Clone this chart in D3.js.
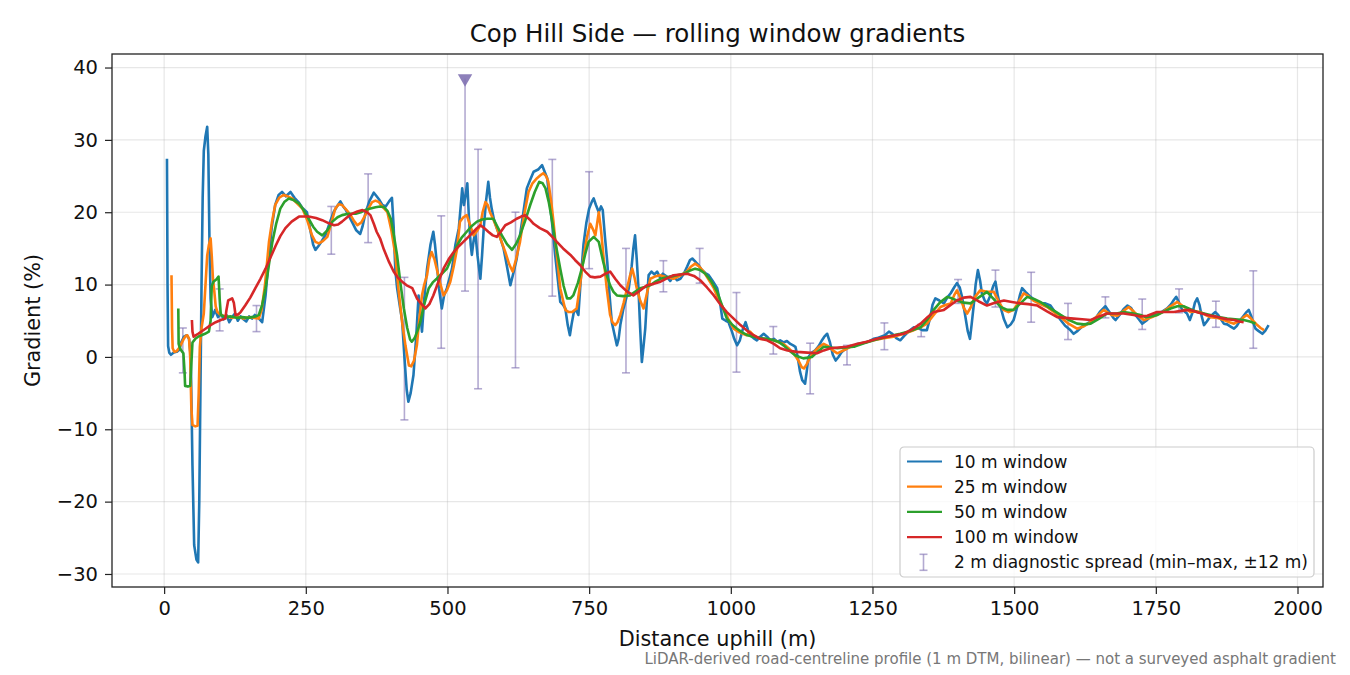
<!DOCTYPE html>
<html>
<head>
<meta charset="utf-8">
<script src="https://cdn.jsdelivr.net/npm/d3@7"></script>
<style>
  body { margin: 0; background: #fff; }
  svg { display: block; font-family: "DejaVu Sans", sans-serif; }
</style>
</head>
<body>
<svg id="chart" width="1350" height="675"></svg>
<script>
// [distance (m), gradient (%)]
const win10 = [[5,27.4],[6,10],[7,1.5],[9,0.6],[12,0.3],[17,0.6],[22,0.7],[27,1.0],[30,2.0],[35,2.8],[40,3.0],[44,2.5],[47,0],[50,-15],[53,-26],[57,-28],[60,-28.4],[62,-20],[64,-5],[66,10],[68,22],[70,28.5],[73,30.5],[76,31.8],[78,28],[80,16],[82,8],[85,5.5],[90,6.5],[95,5.5],[100,6.0],[105,5.2],[110,5.8],[115,4.8],[120,5.5],[125,6.0],[130,5.0],[135,5.6],[140,5.2],[145,4.9],[150,5.6],[155,5.3],[160,5.8],[166,5.4],[173,4.8],[179,8.5],[185,14],[190,18],[196,21],[202,22.4],[208,22.8],[215,22.2],[223,22.8],[230,22.0],[237,21.4],[244,20.6],[252,20.0],[258,17.5],[263,15.5],[267,14.8],[272,15.3],[278,16.0],[285,16.9],[292,18.5],[299,20.0],[305,20.8],[311,21.5],[316,20.8],[320,20.4],[326,19.5],[332,18.6],[339,17.5],[346,17.0],[350,18.0],[355,19.8],[362,21.5],[370,22.7],[375,22.2],[379,21.8],[385,21.0],[391,20.8],[397,21.5],[402,22.0],[405,18],[408,12],[411,9.6],[416,7],[420,5],[424,0],[428,-4.5],[431,-6.2],[435,-5],[440,-2.5],[445,3],[449,8.5],[452,6],[455,3.5],[459,8],[464,12.2],[470,15.5],[475,17.3],[478,15.5],[481,13.1],[485,9.5],[490,6.7],[494,8.5],[499,9.5],[504,11],[508,12.2],[514,15.5],[520,17.8],[523,20.5],[526,23.3],[529,21],[531,21.9],[535,24],[538,19],[541,15.5],[543,14.1],[546,16],[549,17.3],[553,14],[558,10.8],[561,14],[564,17.8],[568,21.5],[572,24.2],[575,22],[578,20.5],[582,19],[587,17.8],[593,16.5],[599,15],[605,12.5],[611,9.9],[617,11.8],[622,13.5],[628,16.8],[634,20],[640,23.3],[646,24.5],[652,25.6],[660,25.9],[667,26.5],[672,25.5],[676,24.7],[681,21],[686,17.5],[690,14.1],[695,10.5],[699,7.6],[704,7.2],[708,6.7],[712,4.5],[716,3.0],[719,4.5],[723,6.2],[727,6.5],[731,5.8],[735,10.5],[740,15.5],[745,18.5],[750,20.5],[755,21.5],[758,21.9],[762,21.0],[767,20.0],[771,20.8],[774,20.3],[778,16.5],[782,13.1],[786,8.5],[790,4.8],[795,3.0],[799,1.6],[802,2.5],[805,4.4],[810,6.5],[815,8.0],[820,9.5],[825,12.5],[828,15],[831,16.8],[834,13.5],[837,9.5],[840,4],[843,-0.7],[846,1.5],[849,3.9],[852,8],[855,11.3],[860,11.8],[865,11.4],[870,11.8],[875,11.0],[880,11.5],[887,11.1],[893,10.5],[899,11.2],[905,10.6],[911,10.8],[917,11.5],[923,12.5],[928,13.4],[932,13.6],[937,13.2],[943,12.7],[949,12.0],[955,11.6],[961,11.3],[968,10.5],[976,9.5],[981,7.5],[985,5.3],[991,5.0],[996,4.8],[1002,3.5],[1006,2.5],[1011,1.6],[1016,2.3],[1021,3.8],[1026,4.8],[1030,3.8],[1034,3.0],[1040,2.6],[1046,2.3],[1052,2.8],[1058,3.2],[1064,2.8],[1070,2.3],[1076,2.5],[1082,2.1],[1087,2.3],[1093,2.0],[1099,2.2],[1105,1.8],[1110,1.6],[1114,1.4],[1118,0],[1122,-2],[1126,-3.2],[1131,-3.7],[1134,-2],[1137,0],[1143,0.6],[1149,0.9],[1155,1.5],[1160,2.2],[1165,2.8],[1170,3.2],[1175,2.0],[1180,0.3],[1185,-0.5],[1190,0],[1195,0.6],[1199,0.9],[1205,1.2],[1211,1.5],[1217,1.4],[1223,1.8],[1230,1.9],[1237,2.0],[1245,2.2],[1252,2.5],[1258,2.6],[1265,2.8],[1272,3.0],[1279,3.5],[1285,3.2],[1292,2.6],[1299,2.3],[1306,2.9],[1315,3.6],[1323,4.1],[1330,4.0],[1338,3.7],[1346,3.7],[1352,5.5],[1356,7.2],[1361,8.1],[1368,7.8],[1376,7.4],[1382,8.2],[1388,8.8],[1394,9.6],[1399,10.2],[1404,9.6],[1408,8.3],[1413,6],[1418,3.6],[1422,2.5],[1425,4.5],[1429,7.4],[1432,10],[1436,12.0],[1440,10.5],[1443,8.8],[1448,7.8],[1452,7.4],[1458,8.5],[1463,9.8],[1467,10.4],[1471,8.5],[1476,6.9],[1482,5.2],[1488,4.1],[1494,4.5],[1499,5.1],[1505,6.8],[1510,8.5],[1514,9.5],[1520,9.0],[1529,8.3],[1537,7.8],[1546,7.4],[1555,7.4],[1564,7.1],[1572,6.2],[1582,5.1],[1590,4.3],[1598,3.8],[1605,3.2],[1612,3.6],[1620,4.2],[1629,4.6],[1637,5.0],[1645,5.5],[1652,6.3],[1661,7.0],[1668,6.2],[1675,5.4],[1679,5.1],[1686,5.8],[1693,6.6],[1700,7.1],[1706,6.8],[1712,6.0],[1720,5.2],[1726,4.6],[1733,5.0],[1740,5.5],[1746,5.8],[1753,6.0],[1760,6.2],[1770,6.7],[1777,7.3],[1782,7.9],[1786,8.3],[1791,7.5],[1796,6.6],[1805,6.0],[1810,5.1],[1815,6.2],[1819,7.5],[1823,8.1],[1827,7.2],[1831,5.6],[1835,4.4],[1840,4.9],[1846,5.6],[1855,6.2],[1860,5.8],[1865,5.2],[1870,4.6],[1876,4.5],[1882,4.2],[1888,3.9],[1893,4.3],[1899,5.1],[1905,5.7],[1910,6.2],[1914,6.5],[1918,5.7],[1922,4.7],[1926,3.9],[1931,3.6],[1938,3.2],[1943,3.6],[1949,4.4]];

const win25 = [[13,11.3],[14,4],[15,1.2],[18,0.7],[22,0.8],[26,1.2],[29,1.6],[34,2.4],[38,2.9],[41,3.0],[44,2.5],[46,0],[48,-7],[50,-9.4],[55,-9.6],[59,-9.5],[61,-5],[63,1.4],[66,4],[70,6],[73,10],[76,14],[79,15.5],[82,16.4],[84,14],[86,11],[88,9.5],[91,7],[94,6.2],[100,5.8],[110,5.6],[120,5.4],[130,5.6],[140,5.3],[150,5.5],[160,5.4],[167,5.3],[172,6.5],[178,10],[185,15.9],[190,18.5],[196,21],[203,22.0],[211,22.4],[218,22.2],[226,21.9],[235,21.2],[244,20.5],[252,19.0],[261,16.8],[267,15.9],[273,15.7],[280,16.0],[288,16.6],[295,18.5],[302,20.5],[308,21.1],[314,21.0],[322,20.3],[329,19.6],[335,18.8],[341,18.2],[348,18.6],[355,19.6],[361,20.6],[367,21.4],[373,21.6],[379,21.4],[386,20.7],[394,20.0],[401,17.5],[408,14.1],[414,9],[420,4.8],[426,1.5],[432,-1.2],[436,-1.3],[441,-0.5],[446,1.6],[450,5],[455,8.5],[459,10],[464,11.3],[468,13.5],[472,14.5],[477,13.5],[481,12.2],[487,10.2],[493,8.5],[499,9.2],[505,10.4],[511,12.5],[517,15],[522,18.7],[528,19.3],[534,19.6],[540,18.2],[546,16.8],[552,17.4],[558,18.2],[562,20],[567,21.4],[571,21],[575,20.0],[581,19],[587,17.8],[595,16],[602,14.5],[609,12.8],[615,11.8],[621,13.5],[628,15.9],[635,19.5],[643,22.8],[650,24.0],[658,24.7],[664,25.1],[669,25.4],[674,25.0],[678,24.2],[683,21.5],[687,18.7],[693,14],[699,9.5],[704,7.8],[708,6.5],[714,6.2],[720,6.2],[728,6.7],[734,10],[740,13.6],[746,16.5],[752,18.4],[757,17.6],[761,16.8],[767,20.0],[771,17.5],[775,14.1],[781,9.5],[787,5.8],[791,4.8],[796,4.4],[800,4.8],[805,5.8],[811,7.5],[817,9.5],[822,11.2],[826,12.2],[830,11],[834,9.5],[840,7.8],[846,6.7],[852,8.8],[858,10.8],[866,11.1],[875,11.3],[887,11.0],[899,10.8],[910,11.2],[922,11.8],[930,12.5],[937,12.9],[944,12.5],[952,11.8],[960,10.8],[970,9.5],[978,8.0],[987,6.7],[996,5.2],[1005,3.9],[1015,3.4],[1028,3.0],[1034,3.5],[1040,3.0],[1052,2.5],[1058,2.5],[1066,2.4],[1076,2.3],[1085,2.0],[1093,1.8],[1102,1.2],[1111,0.5],[1120,-0.6],[1125,-1.4],[1129,-1.6],[1134,-1.0],[1140,0],[1148,0.8],[1156,1.4],[1164,1.8],[1172,1.5],[1180,0.9],[1188,0.5],[1196,0.8],[1204,1.1],[1211,1.4],[1222,1.7],[1237,2.0],[1252,2.3],[1270,2.6],[1287,2.8],[1305,3.2],[1323,3.7],[1335,4.1],[1346,4.6],[1358,5.8],[1370,6.9],[1380,7.2],[1388,7.4],[1394,8.5],[1399,9.2],[1405,8.2],[1411,6.8],[1417,6.0],[1423,6.8],[1430,8.2],[1440,9.2],[1452,9.0],[1464,9.0],[1472,7.8],[1481,6.5],[1490,6.2],[1499,6.5],[1508,7.6],[1517,8.8],[1525,8.4],[1534,7.8],[1546,7.3],[1558,6.9],[1570,6.2],[1582,5.5],[1596,4.6],[1611,3.9],[1622,4.2],[1635,4.8],[1646,5.6],[1658,6.5],[1664,6.2],[1672,5.8],[1682,5.7],[1692,6.3],[1702,6.9],[1712,6.2],[1720,5.6],[1729,5.1],[1740,5.4],[1752,5.8],[1764,6.3],[1776,7.0],[1788,7.6],[1800,6.9],[1811,6.2],[1820,6.3],[1829,6.2],[1838,5.8],[1846,5.5],[1858,5.4],[1870,5.1],[1880,4.8],[1888,4.6],[1898,5.0],[1905,5.5],[1911,5.8],[1918,5.3],[1924,4.8],[1929,4.4],[1935,4.0],[1941,3.7]];

const win50 = [[25,6.7],[25.6,1.8],[28,1.2],[31,0.8],[34,0.5],[36,-2],[37,-4.0],[42,-4.1],[46,-4.0],[48,-1],[50,2.0],[55,2.5],[60,2.8],[66,3.0],[72,3.2],[79,3.5],[82,5],[84,9.8],[87,10.4],[92,10.7],[96,11.1],[98,8],[100,5.8],[108,5.5],[118,5.6],[128,5.4],[138,5.5],[148,5.4],[155,5.5],[162,5.6],[167,5.8],[173,7.2],[179,9.5],[185,12.8],[191,15.9],[198,18.5],[205,20.5],[212,21.4],[220,21.9],[228,21.7],[238,21.2],[247,20.2],[255,19.1],[263,18.0],[270,17.3],[279,16.8],[288,17.5],[297,18.7],[306,19.3],[314,19.6],[325,19.8],[338,19.8],[347,20.0],[355,20.3],[364,20.5],[373,20.7],[381,20.8],[388,20.7],[394,20.2],[400,19.1],[405,17],[411,14.1],[417,10.2],[423,6.7],[429,4],[434,2.4],[437,2.1],[442,2.6],[447,3.6],[452,4.8],[458,7],[467,9.5],[474,10.3],[481,10.8],[490,11.5],[499,12.2],[508,13.8],[517,15.4],[525,16.5],[534,17.3],[543,18.1],[552,18.7],[561,19.0],[570,19.1],[581,19.1],[588,18.0],[596,16.8],[605,15.6],[614,14.8],[621,15.6],[628,16.8],[637,18.8],[646,21.0],[654,22.8],[662,24.2],[668,24.0],[673,23.3],[679,21.3],[684,19.1],[691,15.6],[699,12.2],[705,9.8],[711,8.1],[717,8.1],[722,8.5],[730,10.2],[737,12.2],[743,14.2],[749,15.9],[758,16.6],[767,15.9],[775,13.1],[781,11.3],[787,9.9],[793,9.0],[799,8.5],[810,8.4],[822,8.5],[831,9.0],[840,9.5],[850,9.7],[858,9.9],[867,10.4],[876,10.8],[893,11.1],[905,11.3],[917,11.5],[927,11.9],[937,12.2],[946,12.0],[955,11.5],[965,10.5],[976,9.0],[985,7.0],[993,5.3],[1002,4.5],[1011,3.9],[1020,3.4],[1029,3.0],[1040,2.8],[1052,2.6],[1064,2.5],[1075,2.3],[1084,2.1],[1093,1.6],[1103,0.9],[1114,0.2],[1128,-0.2],[1143,0],[1153,0.7],[1164,1.4],[1176,1.3],[1188,1.2],[1202,1.3],[1217,1.4],[1235,1.9],[1252,2.3],[1275,2.8],[1299,3.2],[1317,3.6],[1335,4.1],[1347,5.2],[1358,6.5],[1370,7.6],[1382,8.3],[1390,8.1],[1399,7.8],[1411,7.5],[1423,7.4],[1437,8.2],[1452,9.0],[1464,8.0],[1476,6.9],[1488,6.5],[1499,6.5],[1511,7.4],[1523,8.3],[1535,8.0],[1546,7.6],[1564,6.7],[1582,5.8],[1597,5.1],[1611,4.6],[1623,4.5],[1635,4.6],[1650,5.3],[1664,6.0],[1681,6.0],[1693,6.2],[1711,6.0],[1723,5.8],[1732,5.5],[1742,5.6],[1752,5.8],[1765,6.3],[1776,6.7],[1788,7.0],[1799,7.0],[1811,6.6],[1823,6.2],[1835,6.0],[1846,5.8],[1861,5.5],[1876,5.3],[1890,5.2],[1905,5.1],[1916,4.9],[1926,4.6]];

const win100 = [[49,5.1],[50,3.5],[52,2.8],[60,3.2],[73,3.9],[82,4.4],[91,4.8],[100,5.1],[108,5.3],[110,6.5],[113,7.8],[120,8.1],[123,7.5],[126,5.8],[131,5.9],[135,6.2],[143,7.1],[152,8.2],[161,9.5],[170,10.8],[179,12.2],[188,13.8],[197,15.4],[205,16.7],[214,17.8],[225,18.7],[238,19.4],[255,19.4],[268,19.2],[279,18.9],[290,18.5],[300,18.2],[307,18.3],[314,18.7],[323,19.3],[332,19.8],[341,20.1],[350,20.3],[358,20.0],[364,19.6],[370,18.4],[375,17.3],[381,16.4],[388,14.8],[397,13.1],[405,11.8],[412,11.0],[420,10.4],[428,9.9],[438,9.5],[446,8.1],[452,7.5],[461,6.7],[468,7.3],[475,8.5],[484,10.4],[493,12.2],[502,13.5],[511,14.5],[520,15.3],[528,15.9],[537,16.6],[546,17.3],[552,17.8],[558,18.2],[565,17.8],[572,17.3],[580,16.8],[587,16.6],[595,17.4],[602,18.2],[612,18.6],[622,19.1],[630,19.4],[637,19.6],[645,19.0],[652,18.4],[663,17.8],[676,17.3],[685,16.6],[693,15.9],[704,15.0],[717,14.1],[725,13.4],[734,12.7],[743,11.8],[752,11.1],[760,11.0],[770,11.1],[779,11.5],[787,11.8],[796,10.8],[805,9.9],[816,9.1],[828,8.5],[840,9.2],[852,9.9],[864,10.1],[876,10.4],[888,10.9],[899,11.3],[911,11.4],[923,11.5],[935,11.2],[946,10.6],[958,9.6],[970,8.5],[981,7.3],[993,6.2],[1005,5.3],[1017,4.4],[1029,3.6],[1040,3.0],[1052,2.5],[1064,2.3],[1076,1.8],[1087,1.2],[1100,0.9],[1117,0.7],[1135,0.6],[1152,0.5],[1164,0.9],[1176,1.2],[1190,1.3],[1205,1.4],[1222,1.8],[1240,2.1],[1258,2.5],[1276,2.8],[1290,3.0],[1305,3.2],[1320,3.8],[1335,4.6],[1347,5.5],[1358,6.2],[1376,6.5],[1388,7.2],[1399,7.8],[1411,8.2],[1423,8.3],[1437,7.7],[1452,7.1],[1466,7.5],[1482,7.8],[1496,7.6],[1511,7.4],[1525,7.3],[1541,7.1],[1558,6.3],[1576,5.5],[1590,5.4],[1605,5.3],[1620,5.2],[1635,5.1],[1650,5.6],[1664,6.0],[1680,6.0],[1693,6.0],[1711,5.8],[1723,5.6],[1735,5.7],[1752,6.2],[1767,6.2],[1782,6.2],[1797,6.4],[1811,6.5],[1826,6.1],[1841,5.8],[1855,5.6],[1864,5.4],[1876,5.2],[1888,5.1],[1897,4.9],[1905,4.8]];

// [distance, min, max] of the 2 m gradient within +-12 m
const spread2 = [[33,-2.2,4.0],[98,3.6,9.4],[163,3.5,7.1],[295,14.2,20.8],[360,15.8,25.3],[424,-8.7,11.0],[489,1.2,19.5],[531,9.1,38.5],[554,-4.4,28.7],[620,-1.5,20.0],[685,8.4,27.3],[750,12.2,25.6],[815,-2.2,15.0],[881,9.0,13.3],[945,10.2,15.0],[1010,-2.1,8.9],[1075,0.4,4.2],[1140,-5.1,1.9],[1205,-1.1,1.6],[1271,1.0,4.7],[1336,2.8,4.5],[1401,7.4,10.7],[1467,6.9,12.0],[1530,4.8,11.7],[1595,2.4,7.4],[1661,5.4,8.3],[1726,3.8,8.0],[1791,6.1,9.4],[1856,4.1,7.7],[1922,1.2,11.9]];

// off-scale marker (clipped max)
const clipped = [[531,38.5]];

const xTicks = [0,250,500,750,1000,1250,1500,1750,2000];
const yTicks = [-30,-20,-10,0,10,20,30,40];

const series = [
    { label: '10 m window', data: win10, color: '#1f77b4' },
    { label: '25 m window', data: win25, color: '#ff7f0e' },
    { label: '50 m window', data: win50, color: '#2ca02c' },
    { label: '100 m window', data: win100, color: '#d62728' }
];
const spreadColor = '#8172b3';

const svg = d3.select('#chart');
const margin = { top: 54, right: 27, bottom: 88, left: 112 };
const W = 1350, H = 675;
const width = W - margin.left - margin.right;
const height = H - margin.top - margin.bottom;

const x = d3.scaleLinear().domain([-92, 2045]).range([0, width]);
const y = d3.scaleLinear().domain([-31.8, 41.87]).range([height, 0]);

svg.append('rect').attr('width', W).attr('height', H).attr('fill', '#fff');

const g = svg.append('g')
    .attr('transform', `translate(${margin.left},${margin.top})`);

// grid
g.append('g').selectAll('line').data(xTicks).join('line')
    .attr('x1', d => x(d)).attr('x2', d => x(d))
    .attr('y1', 0).attr('y2', height)
    .attr('stroke', '#b0b0b0').attr('stroke-opacity', 0.3).attr('stroke-width', 1.2);
g.append('g').selectAll('line').data(yTicks).join('line')
    .attr('y1', d => y(d)).attr('y2', d => y(d))
    .attr('x1', 0).attr('x2', width)
    .attr('stroke', '#b0b0b0').attr('stroke-opacity', 0.3).attr('stroke-width', 1.2);

g.append('clipPath').attr('id', 'plotclip')
    .append('rect').attr('width', width).attr('height', height);
const plot = g.append('g').attr('clip-path', 'url(#plotclip)');

// error bars under the lines
const bars = plot.append('g')
    .attr('stroke', spreadColor).attr('stroke-opacity', 0.6).attr('stroke-width', 1.6);
bars.selectAll('.stem').data(spread2).join('line')
    .attr('x1', d => x(d[0])).attr('x2', d => x(d[0]))
    .attr('y1', d => y(d[1])).attr('y2', d => y(d[2]));
bars.selectAll('.capLo').data(spread2).join('line')
    .attr('x1', d => x(d[0]) - 4).attr('x2', d => x(d[0]) + 4)
    .attr('y1', d => y(d[1])).attr('y2', d => y(d[1]));
bars.selectAll('.capHi').data(spread2.filter(d => d[0] !== 531)).join('line')
    .attr('x1', d => x(d[0]) - 4).attr('x2', d => x(d[0]) + 4)
    .attr('y1', d => y(d[2])).attr('y2', d => y(d[2]));

const line = d3.line()
    .x(d => x(d[0]))
    .y(d => y(d[1]));

plot.selectAll('.series').data(series).join('path')
    .attr('d', d => line(d.data))
    .attr('fill', 'none')
    .attr('stroke', d => d.color)
    .attr('stroke-width', 2.6)
    .attr('stroke-linejoin', 'round');

plot.selectAll('.clip').data(clipped).join('path')
    .attr('d', d3.symbol(d3.symbolTriangle, 90))
    .attr('transform', d => `translate(${x(d[0])},${y(d[1])}) rotate(180)`)
    .attr('fill', spreadColor).attr('fill-opacity', 0.9);

// axes
const xAxis = g.append('g')
    .attr('transform', `translate(0,${height})`)
    .call(d3.axisBottom(x).tickValues(xTicks).tickSize(7).tickPadding(7).tickFormat(d3.format('d')));
const yAxis = g.append('g')
    .call(d3.axisLeft(y).tickValues(yTicks).tickSize(7).tickPadding(7)
        .tickFormat(d => (d < 0 ? '\u2212' + Math.abs(d) : d)));
[xAxis, yAxis].forEach(a => {
    a.select('.domain').remove();
    a.selectAll('line').attr('stroke', '#222').attr('stroke-width', 1.2);
    a.selectAll('text').attr('fill', '#111').style('font-size', '19.5px')
        .style('font-family', '"DejaVu Sans", sans-serif');
});

g.append('rect').attr('width', width).attr('height', height)
    .attr('fill', 'none').attr('stroke', '#222').attr('stroke-width', 1.3);

// titles
svg.append('text')
    .attr('x', margin.left + width / 2).attr('y', 42)
    .attr('text-anchor', 'middle').style('font-size', '24.5px').attr('fill', '#111')
    .text('Cop Hill Side \u2014 rolling window gradients');
svg.append('text')
    .attr('x', margin.left + width / 2).attr('y', 646)
    .attr('text-anchor', 'middle').style('font-size', '20.8px').attr('fill', '#111')
    .text('Distance uphill (m)');
svg.append('text')
    .attr('transform', `translate(40,${margin.top + height / 2}) rotate(-90)`)
    .attr('text-anchor', 'middle').style('font-size', '20.8px').attr('fill', '#111')
    .text('Gradient (%)');
svg.append('text')
    .attr('x', 1336).attr('y', 664)
    .attr('text-anchor', 'end').style('font-size', '15px').attr('fill', '#777')
    .text('LiDAR-derived road-centreline profile (1 m DTM, bilinear) \u2014 not a surveyed asphalt gradient');

// legend
const lg = svg.append('g').attr('transform', 'translate(900,447)');
lg.append('rect').attr('width', 414).attr('height', 130).attr('rx', 4)
    .attr('fill', '#fff').attr('fill-opacity', 0.8)
    .attr('stroke', '#cccccc').attr('stroke-width', 1.2);
const rowY = i => 14.5 + i * 25.2;
series.forEach((s, i) => {
    lg.append('line').attr('x1', 7).attr('x2', 42)
        .attr('y1', rowY(i)).attr('y2', rowY(i))
        .attr('stroke', s.color).attr('stroke-width', 2.2);
    lg.append('text').attr('x', 54).attr('y', rowY(i) + 6)
        .style('font-size', '17px').attr('fill', '#111').text(s.label);
});
const ey = rowY(4);
const eg = lg.append('g').attr('stroke', spreadColor).attr('stroke-opacity', 0.6).attr('stroke-width', 1.6);
eg.append('line').attr('x1', 23.5).attr('x2', 23.5).attr('y1', ey - 8).attr('y2', ey + 8);
eg.append('line').attr('x1', 19.5).attr('x2', 27.5).attr('y1', ey - 8).attr('y2', ey - 8);
eg.append('line').attr('x1', 19.5).attr('x2', 27.5).attr('y1', ey + 8).attr('y2', ey + 8);
lg.append('text').attr('x', 54).attr('y', ey + 6)
    .style('font-size', '17px').attr('fill', '#111')
    .text('2 m diagnostic spread (min\u2013max, \u00b112 m)');
</script>
</body>
</html>
